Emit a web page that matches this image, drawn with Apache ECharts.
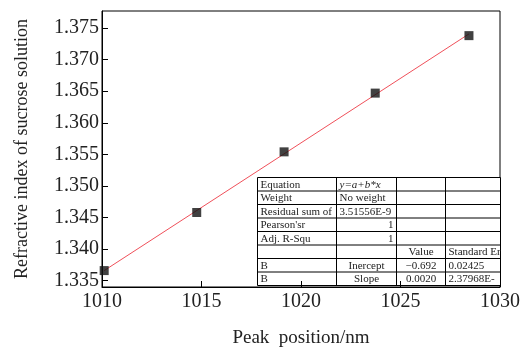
<!DOCTYPE html>
<html><head><meta charset="utf-8">
<script src="https://cdn.jsdelivr.net/npm/echarts@6/dist/echarts.min.js"></script>
<style>html,body{margin:0;padding:0;background:#fff}#c{width:523px;height:353px}</style>
</head><body><div id="c"></div>
<script>
// ---- data ----
const peakPosition = [1010.11, 1014.76, 1019.15, 1023.73, 1028.44];
const refractiveIndex = [1.3366, 1.3458, 1.3554, 1.3647, 1.3738];
const yTickValues = [1.335, 1.340, 1.345, 1.350, 1.355, 1.360, 1.365, 1.370, 1.375];
const xTickValues = [1010, 1015, 1020, 1025, 1030];
const xAxisTitle = 'Peak  position/nm';
const yAxisTitle = 'Refractive index of sucrose solution';
const tableRows = [
  ['Equation', 'y=a+b*x', '', ''],
  ['Weight', 'No weight', '', ''],
  ['Residual sum of', '3.51556E-9', '', ''],
  ["Pearson'sr", '1', '', ''],
  ['Adj. R-Squ', '1', '', ''],
  ['', '', 'Value', 'Standard Er'],
  ['B', 'Inercept', '\u22120.692', '0.02425'],
  ['B', 'Slope', '0.0020', '2.37968E-']
];

// ---- fit line (least squares from the data) ----
const n = peakPosition.length;
const mx = peakPosition.reduce((a, b) => a + b, 0) / n;
const my = refractiveIndex.reduce((a, b) => a + b, 0) / n;
let sxy = 0, sxx = 0;
for (let i = 0; i < n; i++) { sxy += (peakPosition[i] - mx) * (refractiveIndex[i] - my); sxx += (peakPosition[i] - mx) ** 2; }
const slope = sxy / sxx, intercept = my - slope * mx;
const x0 = Math.min(...peakPosition), x1 = Math.max(...peakPosition);
const fitLine = [[x0, intercept + slope * x0], [x1, intercept + slope * x1]];

// ---- table graphic ----
const FONT = '"Liberation Serif", "Times New Roman", serif';
const colW = [79, 60, 49, 55];
const rowH = 13.5;
const tLeft = 255, tTop = 175;
const tW = colW.reduce((a, b) => a + b, 0), tH = rowH * tableRows.length;
const colX = [0]; colW.forEach((w, i) => colX.push(colX[i] + w));
function cellAlign(r, c) {
  if (c === 0) return 'left';
  if (c === 1) {
    if (r === 3 || r === 4) return 'right';
    if (r >= 6) return 'center';
    return 'left';
  }
  if (c === 2) return 'center';
  return 'left';
}
const children = [];
children.push({ type: 'rect', shape: { x: 0, y: 0, width: tW, height: tH }, style: { fill: '#fff', stroke: '#000', lineWidth: 1 } });
for (let r = 1; r < tableRows.length; r++) {
  children.push({ type: 'line', shape: { x1: 0, y1: r * rowH, x2: tW, y2: r * rowH }, style: { stroke: '#000', lineWidth: 1 } });
}
for (let c = 1; c < colW.length; c++) {
  children.push({ type: 'line', shape: { x1: colX[c], y1: 0, x2: colX[c], y2: tH }, style: { stroke: '#000', lineWidth: 1 } });
}
tableRows.forEach((row, r) => {
  row.forEach((txt, c) => {
    if (!txt) return;
    const al = cellAlign(r, c);
    const x = al === 'left' ? colX[c] + 3 : al === 'right' ? colX[c + 1] - 3 : colX[c] + colW[c] / 2;
    children.push({
      type: 'text',
      style: {
        text: txt, x: x, y: r * rowH + rowH / 2 + 0.5,
        align: al, verticalAlign: 'middle',
        fill: '#222', fontSize: 11, fontFamily: FONT,
        fontStyle: (r === 0 && c === 1) ? 'italic' : 'normal'
      }
    });
  });
});

const chart = echarts.init(document.getElementById('c'), null, { renderer: 'canvas' });
chart.setOption({
  animation: false,
  backgroundColor: '#fff',
  grid: { left: 102, right: 19, top: 11, bottom: 61, show: true, borderColor: '#000', borderWidth: 1, backgroundColor: 'transparent' },
  xAxis: {
    type: 'value', min: 1010, max: 1030, interval: 5,
    name: xAxisTitle, nameLocation: 'middle', nameGap: 42,
    nameTextStyle: { fontFamily: FONT, fontSize: 19, color: '#222' },
    axisLine: { show: true, lineStyle: { color: '#000', width: 1 } },
    axisTick: { show: true, inside: true, length: 6, lineStyle: { color: '#000' } },
    axisLabel: { fontFamily: FONT, fontSize: 20, color: '#222', margin: 5,
      customValues: xTickValues, formatter: v => String(v) },
    splitLine: { show: false }
  },
  yAxis: {
    type: 'value', min: 1.334, max: 1.3777,
    name: yAxisTitle, nameLocation: 'middle', nameGap: 71, nameRotate: 90,
    nameTextStyle: { fontFamily: FONT, fontSize: 18, color: '#222' },
    axisLine: { show: true, lineStyle: { color: '#000', width: 1 } },
    axisTick: { show: true, inside: true, length: 6, lineStyle: { color: '#000' }, customValues: yTickValues },
    axisLabel: { fontFamily: FONT, fontSize: 20, color: '#222', margin: 3,
      customValues: yTickValues, formatter: v => v.toFixed(3) },
    splitLine: { show: false }
  },
  series: [
    { type: 'line', data: fitLine, symbol: 'none', lineStyle: { color: '#f0505a', width: 1 }, z: 2, silent: true },
    { type: 'scatter', data: peakPosition.map((x, i) => [x, refractiveIndex[i]]), symbol: 'rect', symbolSize: 9, itemStyle: { color: '#111' }, z: 3 }
  ],
  graphic: [{ type: 'group', left: tLeft, top: tTop, z: 100, children: children }]
});
</script></body></html>
